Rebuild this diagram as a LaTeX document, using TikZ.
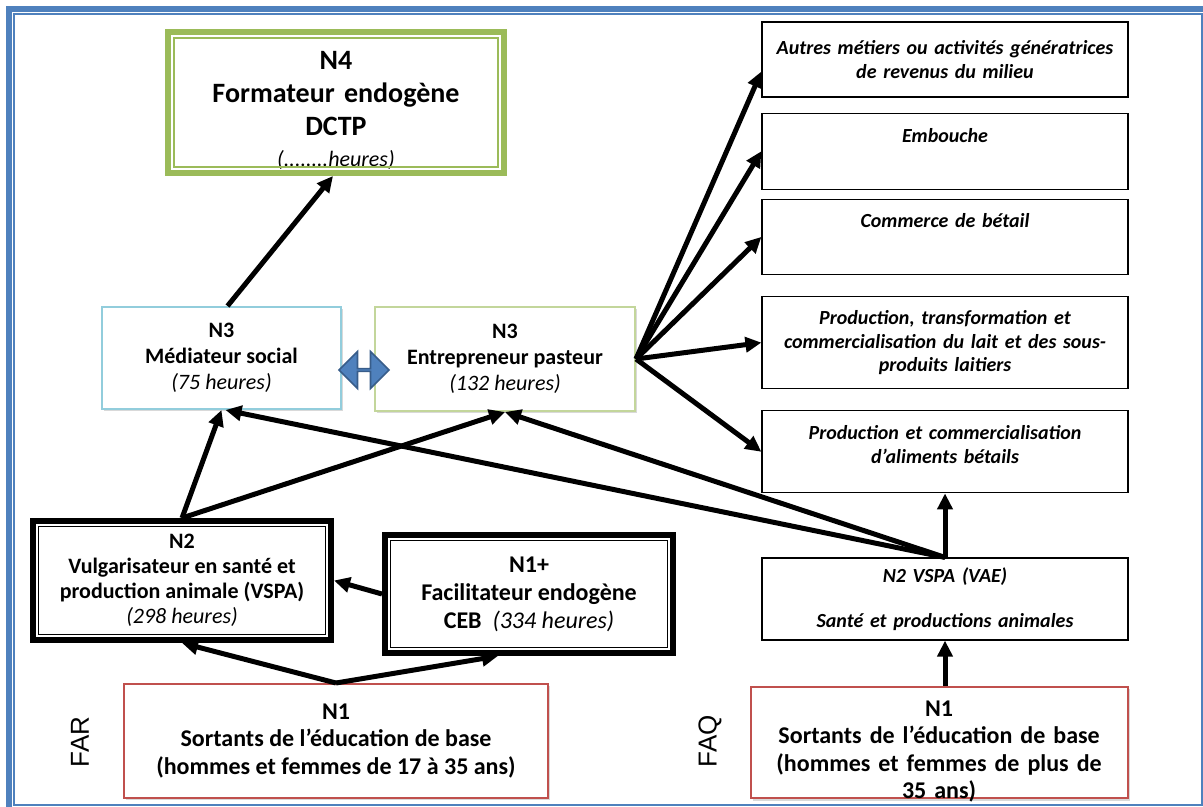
\documentclass[tikz,border=0pt]{standalone}
\usepackage{fontspec}
\setmainfont{Carlito}
\newfontfamily\farfont{Liberation Sans}
\usetikzlibrary{arrows.meta,positioning,shapes.arrows,shadows}
\definecolor{frameblue}{RGB}{79,129,189}
\definecolor{n4green}{RGB}{155,187,89}
\definecolor{medblue}{RGB}{146,205,220}
\definecolor{entgreen}{RGB}{195,214,155}
\definecolor{n1red}{RGB}{192,80,77}
\definecolor{linkedge}{RGB}{56,93,138}
\newcommand{\hrs}[1]{{\mdseries\itshape #1}}
\tikzset{
  conn/.style={-{Triangle[length=8pt,width=7.5pt]},line width=2.5pt},
  lvl/.style={align=center,inner sep=0pt,fill=white},
  soft/.style={lvl,line width=1pt,
    drop shadow={shadow xshift=1.2pt,shadow yshift=-1.2pt,opacity=.3}},
  heavy/.style={lvl,line width=3pt},
  rbox/.style={draw,line width=0.6pt,align=center,inner sep=0pt,text width=183pt,
    font=\fontsize{10}{11.75}\selectfont\bfseries\itshape},
  side/.style={rotate=90,font=\farfont\fontsize{13}{15}\selectfont},
}
\begin{document}
\begin{tikzpicture}[x=0.5pt,y=-0.5pt]
\useasboundingbox (0,0) rectangle (1203,807);
% page frame
\draw[frameblue,line width=3pt] (9,830) |- (1225,9);
\draw[frameblue,line width=1pt] (14,14) rectangle (1201.5,805);
% left part
\node[heavy,draw=n4green,text width=168pt,text height=19pt,text depth=51.5pt,
  font=\fontsize{14}{16.5}\selectfont\bfseries] (n4) at (336,102.5)
  {N4\\Formateur endogène\\DCTP\\[-1pt]{\fontsize{11}{13}\selectfont\hrs{(........heures)}}};
\node[soft,draw=medblue,minimum width=119.5pt,minimum height=51pt,
  font=\fontsize{11}{13}\selectfont\bfseries] (med) at (221.5,358)
  {N3\\Médiateur social\\\hrs{(75 heures)}};
\node[soft,draw=entgreen,minimum width=130pt,minimum height=52pt,
  font=\fontsize{11}{13}\selectfont\bfseries] (ent) at (505,359)
  {N3\\Entrepreneur pasteur\\\hrs{(132 heures)}};
\node[double arrow,fill=frameblue,draw=linkedge,line width=0.8pt,inner sep=0pt,
  minimum height=25pt,minimum width=18.5pt,double arrow head extend=5pt] (link) at (364,370) {};
\node[heavy,draw=black,minimum width=149pt,minimum height=59.5pt,
  font=\fontsize{11}{12.5}\selectfont\bfseries] (n2) at (182,580.5)
  {N2\\Vulgarisateur en santé et\\production animale (VSPA)\\\hrs{(298 heures)}};
\node[heavy,draw=black,minimum width=144pt,minimum height=59pt,
  font=\fontsize{12}{14}\selectfont\bfseries] (n1p) at (529,594)
  {N1+\\Facilitateur endogène\\CEB\ \ \hrs{(334 heures)}};
\node[soft,draw=n1red,minimum width=212pt,minimum height=57pt,
  font=\fontsize{12}{13.75}\selectfont\bfseries] (n1r) at (336,741)
  {N1\\Sortants de l’éducation de base\\(hommes et femmes de 17 à 35 ans)};
\node[side] (far) at (80,742) {FAR};
\draw[n4green,line width=0.75pt] ([shift={(4.5pt,-4.5pt)}]n4.north west)
  rectangle ([shift={(-4.5pt,4.5pt)}]n4.south east);
\draw[line width=0.7pt] ([shift={(4.25pt,-4.25pt)}]n2.north west)
  rectangle ([shift={(-4.25pt,4.25pt)}]n2.south east);
\draw[line width=0.7pt] ([shift={(4.25pt,-4.25pt)}]n1p.north west)
  rectangle ([shift={(-4.25pt,4.25pt)}]n1p.south east);
% right column
\node[rbox,minimum height=37.5pt] (aut) at (945,59.5)
  {Autres métiers ou activités génératrices\\de revenus du milieu};
\node[rbox,below=7.5pt of aut,text height=14.5pt,text depth=23.5pt] (emb) {Embouche};
\node[rbox,below=4.5pt of emb,text height=14pt,text depth=23.5pt] (com) {Commerce de bétail};
\node[rbox,below=10.5pt of com,minimum height=46pt] (lait)
  {Production, transformation et\\commercialisation du lait et des sous-\\produits laitiers};
\node[rbox,below=10.5pt of lait,text height=14.5pt,text depth=26.5pt] (alim)
  {Production et commercialisation\\d’aliments bétails};
\node[rbox,below=32pt of alim,minimum height=41pt] (vspa)
  {N2 VSPA (VAE)\\[11pt]Santé et productions animales};
\node[soft,draw=n1red,text width=188.5pt,text height=14.75pt,text depth=41pt,anchor=north east,
  font=\fontsize{12}{13.75}\selectfont\bfseries] (n1q) at ([yshift=-22.5pt]vspa.south east)
  {N1\\Sortants de l’éducation de base\\(hommes et femmes de plus de\\35 ans)};
\node[side] (faq) at (710,741) {FAQ};
% connectors
\draw[conn] ([xshift=3pt]med.north) -- ([xshift=-1.5pt]n4.south);
\draw[conn] (n2.north) -- (med.south);
\draw[conn] (n2.north) -- (ent.south);
\draw[conn] (vspa.north) -- ([xshift=2pt]med.south);
\draw[conn] (vspa.north) -- (ent.south);
\draw[conn] (vspa.north) -- (alim.south);
\draw[conn] (vspa.south |- n1q.north) -- (vspa.south);
\draw[conn] (ent.east) -- ([yshift=-6pt]aut.west);
\draw[conn] (ent.east) -- (emb.west);
\draw[conn] (ent.east) -- (com.west);
\draw[conn] (ent.east) -- (lait.west);
\draw[conn] (ent.east) -- (alim.west);
\draw[conn] (n1p.west) -- (n2.east);
\draw[conn] (n1r.north) -- (n2.south);
\draw[conn] (n1r.north) -- ([xshift=-15.5pt]n1p.south);
\end{tikzpicture}
\end{document}
